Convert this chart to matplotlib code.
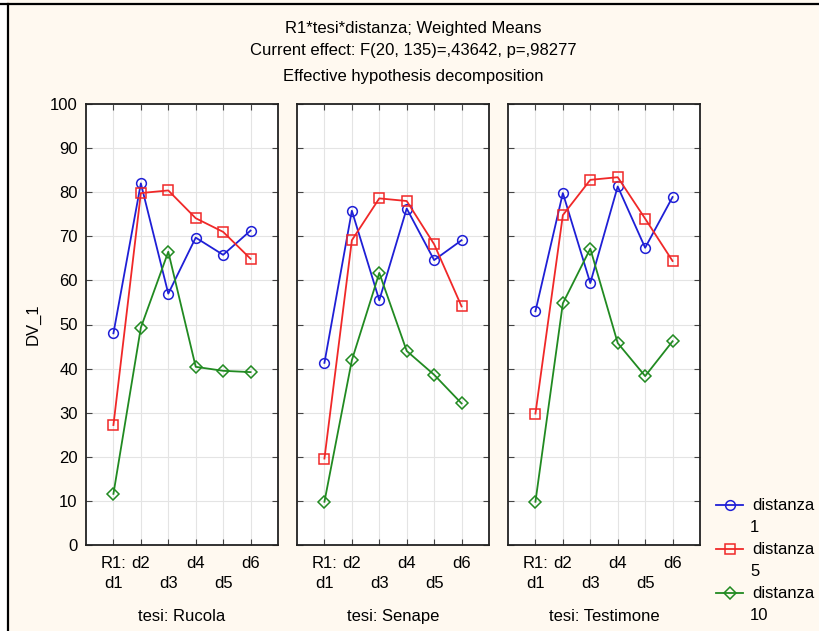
import matplotlib
matplotlib.use("Agg")
import matplotlib.pyplot as plt
from matplotlib.lines import Line2D

plt.rcParams['font.family'] = ['Liberation Sans', 'DejaVu Sans']

# Data: weighted means of DV_1 by R1 level, per tesi and distanza
levels = ["d1", "d2", "d3", "d4", "d5", "d6"]
tick_labels = ["R1:\nd1", "d2", "\nd3", "d4", "\nd5", "d6"]
tesi = ["Rucola", "Senape", "Testimone"]
distanze = ["1", "5", "10"]

rucola_d1 = [48.0, 82.0, 57.0, 69.7, 65.8, 71.3]
rucola_d5 = [27.2, 79.8, 80.4, 74.1, 71.0, 64.9]
rucola_d10 = [11.6, 49.3, 66.5, 40.4, 39.5, 39.2]

senape_d1 = [41.3, 75.8, 55.5, 76.3, 64.6, 69.1]
senape_d5 = [19.6, 69.1, 78.6, 78.0, 68.2, 54.1]
senape_d10 = [9.8, 41.9, 61.7, 44.0, 38.6, 32.1]

testimone_d1 = [53.0, 79.8, 59.4, 81.3, 67.4, 78.9]
testimone_d5 = [29.8, 74.8, 82.8, 83.4, 74.0, 64.4]
testimone_d10 = [9.8, 54.8, 67.2, 45.8, 38.3, 46.2]

panels = [
    [rucola_d1, rucola_d5, rucola_d10],
    [senape_d1, senape_d5, senape_d10],
    [testimone_d1, testimone_d5, testimone_d10],
]

colors = ["#1f1fd6", "#f02828", "#218a21"]
markers = ["o", "s", "D"]
msizes = [7, 7, 6]

W, H = 819, 631
bg = "#fff9f0"
fig = plt.figure(figsize=(W / 100, H / 100), dpi=100, facecolor=bg)

# Frame lines along top and left edges
fig.patches.append(plt.Rectangle((0, 0), 0.008, 1, transform=fig.transFigure,
                                 facecolor="white", edgecolor="none"))
fig.add_artist(Line2D([0, 1], [0.994, 0.994], transform=fig.transFigure,
                      color="black", lw=1.6))
fig.add_artist(Line2D([0.0095, 0.0095], [0, 0.994], transform=fig.transFigure,
                      color="black", lw=1.6))

title_lines = ["R1*tesi*distanza; Weighted Means",
               "Current effect: F(20, 135)=,43642, p=,98277",
               "Effective hypothesis decomposition"]
for txt, ypx in zip(title_lines, [28, 51, 77]):
    fig.text(0.505, 1 - ypx / H, txt, ha="center", va="center", fontsize=12.0)

lefts = [86, 297, 508]
x = list(range(1, len(levels) + 1))
axes = []
for i, (left, series) in enumerate(zip(lefts, panels)):
    ax = fig.add_axes([left / W, (H - 545) / H, 192 / W, 441 / H])
    ax.set_facecolor("white")
    for vals, c, m, ms in zip(series, colors, markers, msizes):
        ax.plot(x, vals, color=c, marker=m, markersize=ms,
                markerfacecolor="none", markeredgecolor=c,
                markeredgewidth=1.1, lw=1.3)
    ax.set_xlim(0, 7)
    ax.set_ylim(0, 100)
    ax.set_xticks(x)
    ax.set_xticklabels(tick_labels, fontsize=12, linespacing=1.4)
    ax.set_yticks(range(0, 101, 10))
    ax.grid(True, color="#e4e4e4", lw=0.8)
    ax.set_axisbelow(True)
    ax.tick_params(direction="in", length=4, width=0.8, top=True, right=True,
                   labelsize=12, color="#444444")
    ax.tick_params(axis="x", pad=8)
    ax.tick_params(axis="y", pad=6)
    for sp in ax.spines.values():
        sp.set_color("#222222")
        sp.set_linewidth(1.3)
    ax.set_xlabel(f"tesi: {tesi[i]}", fontsize=12, labelpad=13)
    if i == 0:
        ax.set_ylabel("DV_1", fontsize=12, labelpad=7)
    else:
        ax.tick_params(labelleft=False)
    axes.append(ax)

# Legend: handle beside the first line of each two-line label
for k, (c, m, ms, d) in enumerate(zip(colors, markers, msizes, distanze)):
    ypx = 505 + 44 * k
    yf = 1 - ypx / H
    fig.add_artist(Line2D([716 / W, 743 / W], [yf, yf], transform=fig.transFigure,
                          color=c, lw=1.3))
    fig.add_artist(Line2D([729.5 / W], [yf], transform=fig.transFigure,
                          color=c, marker=m, markersize=ms,
                          markerfacecolor="none", markeredgecolor=c,
                          markeredgewidth=1.1))
    fig.text(752 / W, yf, "distanza", ha="left", va="center", fontsize=12)
    fig.text(750 / W, 1 - (ypx + 23) / H, d, ha="left", va="center", fontsize=12)

fig.savefig("out.png", dpi=100, facecolor=bg)
